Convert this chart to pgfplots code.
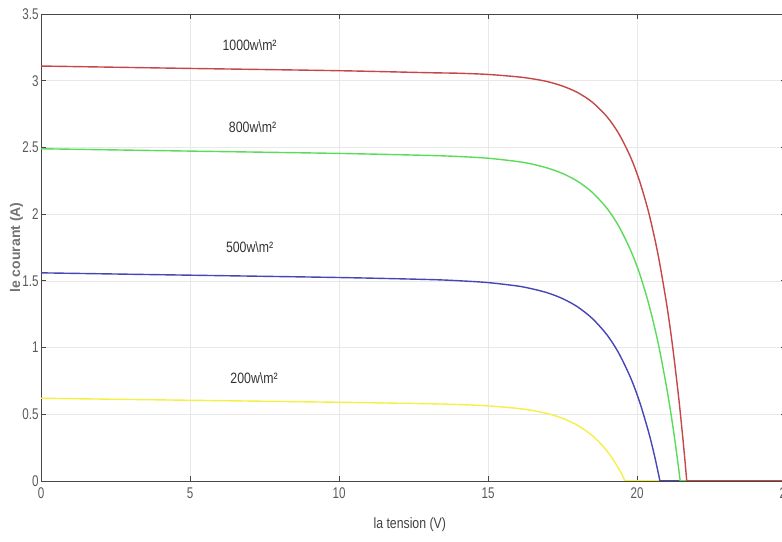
\documentclass[border=0pt]{standalone}
\usepackage{fontspec}
\setmainfont{Liberation Sans}[FakeStretch=0.75]
\newfontfamily\lblfont{Liberation Sans}[FakeStretch=0.82]
\newfontfamily\ylfont{Liberation Sans}
\usepackage{pgfplots}
\pgfplotsset{compat=1.18}
\usetikzlibrary{calc}
\definecolor{cred}{RGB}{196,72,72}
\definecolor{cgreen}{RGB}{90,220,90}
\definecolor{cblue}{RGB}{70,70,180}
\definecolor{cyellow}{RGB}{245,240,70}
\begin{document}
\begin{tikzpicture}
\begin{axis}[
  width=745pt, height=467pt, scale only axis,
  xmin=0, xmax=25, ymin=0, ymax=3.5,
  xtick={0,5,10,15,20,25},
  ytick={0,0.5,1,1.5,2,2.5,3,3.5},
  grid=major,
  major grid style={color=black!9, line width=0.7pt},
  axis line style={color=black!72, line width=0.8pt},
  tick style={color=black!72, line width=0.8pt},
  tick align=inside, major tick length=5pt,
  /pgf/number format/assume math mode=true,
  ticklabel style={font=\fontsize{15.5}{15.5}\selectfont, text=black!65},
  xticklabel style={yshift=-3pt},
  yticklabel style={xshift=1pt},
  xlabel={\lblfont\fontsize{15}{15}\selectfont la tension (V)},
  ylabel={\ylfont\bfseries\fontsize{14}{14}\selectfont le courant (A)},
  xlabel style={at={(axis description cs:0.495,-0.094)}, anchor=center, text=black!75},
  ylabel style={at={(axis description cs:-0.033,0.5)}, anchor=center, text=black!55},
  every axis plot/.append style={line width=1.4pt, line join=round},
]
% 200 W/m2
\addplot[cyellow, smooth, tension=0.5] coordinates {
(0,0.62) (5,0.605) (10,0.59) (13,0.579) (14,0.573) (15,0.563) (16,0.544) (16.5,0.528) (17,0.505) (17.5,0.470)
(18,0.418) (18.5,0.340) (18.9,0.250) (19.2,0.160) (19.45,0.067) (19.6,0.0)};
\addplot[cyellow, forget plot] coordinates {(19.6,0) (25,0)};
% 500 W/m2
\addplot[cblue, smooth, tension=0.5] coordinates {
(0,1.56) (5,1.5425) (10,1.525) (13,1.510) (14,1.501) (15,1.487) (16,1.461) (16.5,1.439) (17,1.410) (17.5,1.367)
(18,1.306) (18.5,1.218) (19,1.093) (19.4,0.953) (19.8,0.766) (20.1,0.584)
(20.4,0.358) (20.6,0.177) (20.77,0.0)};
\addplot[cblue, forget plot] coordinates {(20.77,0) (25,0)};
% 800 W/m2
\addplot[cgreen, smooth, tension=0.5] coordinates {
(0,2.49) (5,2.4725) (10,2.455) (13,2.440) (14,2.432) (15,2.419) (16,2.394) (16.5,2.374) (17,2.345) (17.5,2.305)
(18,2.247) (18.5,2.163) (19,2.041) (19.4,1.905) (19.8,1.722) (20.1,1.545)
(20.4,1.322) (20.7,1.044) (21.0,0.694) (21.2,0.415) (21.35,0.175) (21.45,0.0)};
\addplot[cgreen, forget plot] coordinates {(21.45,0) (25,0)};
% 1000 W/m2
\addplot[cred, smooth, tension=0.5] coordinates {
(0,3.11) (5,3.092) (10,3.075) (13,3.060) (14,3.056) (15,3.047) (16,3.029) (16.5,3.014) (17,2.993) (17.5,2.960)
(18,2.912) (18.5,2.839) (19,2.728) (19.4,2.599) (19.8,2.419) (20.1,2.238)
(20.4,2.005) (20.7,1.704) (21.0,1.318) (21.2,0.999) (21.4,0.622) (21.55,0.294) (21.67,0.0)};
\addplot[cred, forget plot] coordinates {(21.67,0) (25,0)};
\node[font=\lblfont\fontsize{15}{15}\selectfont, text=black!80] at (axis cs:7.0,3.27) {1000w\textbackslash m²};
\node[font=\lblfont\fontsize{15}{15}\selectfont, text=black!80] at (axis cs:7.1,2.65) {800w\textbackslash m²};
\node[font=\lblfont\fontsize{15}{15}\selectfont, text=black!80] at (axis cs:7.0,1.75) {500w\textbackslash m²};
\node[font=\lblfont\fontsize{15}{15}\selectfont, text=black!80] at (axis cs:7.15,0.77) {200w\textbackslash m²};
\end{axis}
\pgfresetboundingbox
\path[use as bounding box] ($(current axis.south west)+(-41pt,-61pt)$) rectangle ($(current axis.north east)+(-4pt,14pt)$);
\end{tikzpicture}
\end{document}
